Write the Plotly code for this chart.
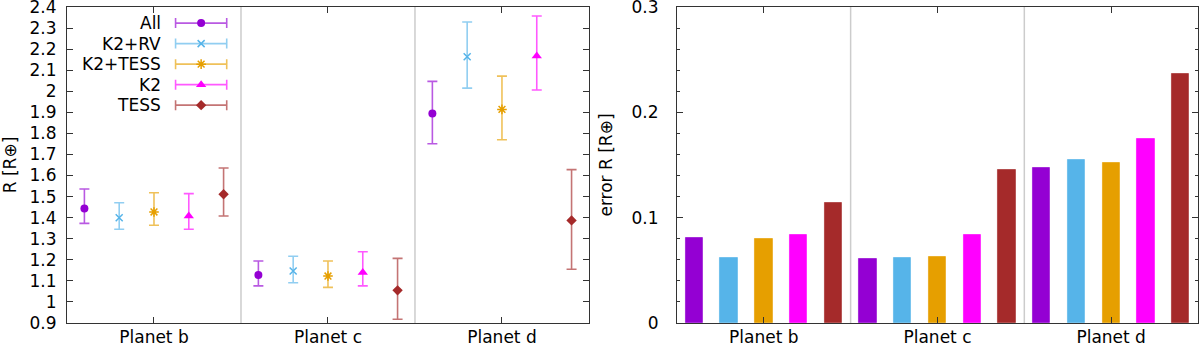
import plotly.graph_objects as go

# Data
planets = ["Planet b", "Planet c", "Planet d"]
series = ["All", "K2+RV", "K2+TESS", "K2", "TESS"]

r_all = [1.444, 1.128, 1.895]
r_all_hi = [0.092, 0.066, 0.152]
r_all_lo = [0.071, 0.052, 0.144]

r_k2rv = [1.400, 1.147, 2.164]
r_k2rv_hi = [0.071, 0.070, 0.165]
r_k2rv_lo = [0.055, 0.056, 0.149]

r_k2tess = [1.427, 1.123, 1.914]
r_k2tess_hi = [0.091, 0.071, 0.158]
r_k2tess_lo = [0.063, 0.054, 0.144]

r_k2 = [1.408, 1.140, 2.167]
r_k2_hi = [0.106, 0.098, 0.190]
r_k2_lo = [0.063, 0.064, 0.161]

r_tess = [1.511, 1.055, 1.387]
r_tess_hi = [0.125, 0.152, 0.241]
r_tess_lo = [0.103, 0.137, 0.232]

err_all = [0.081, 0.0605, 0.147]
err_k2rv = [0.0614, 0.0614, 0.155]
err_k2tess = [0.0795, 0.063, 0.1516]
err_k2 = [0.0839, 0.0839, 0.175]
err_tess = [0.1143, 0.1452, 0.2367]

r_ticks = [0.9, 1, 1.1, 1.2, 1.3, 1.4, 1.5, 1.6, 1.7, 1.8, 1.9, 2, 2.1, 2.2, 2.3, 2.4]
err_ticks = [0, 0.1, 0.2, 0.3]

# styles
colors = ["#9400D3", "#56B4E9", "#E69F00", "#FF00FF", "#A52A2A"]
err_colors = ["rgba(148,0,211,0.65)", "rgba(86,180,233,0.65)", "rgba(230,159,0,0.65)",
              "rgba(255,0,255,0.65)", "rgba(165,42,42,0.65)"]
symbols = ["circle", "x-thin-open", "asterisk-open", "triangle-up", "diamond"]
sizes = [8, 7, 8, 9, 8]

values = [r_all, r_k2rv, r_k2tess, r_k2, r_tess]
highs = [r_all_hi, r_k2rv_hi, r_k2tess_hi, r_k2_hi, r_tess_hi]
lows = [r_all_lo, r_k2rv_lo, r_k2tess_lo, r_k2_lo, r_tess_lo]
errs = [err_all, err_k2rv, err_k2tess, err_k2, err_tess]

FONT = "DejaVu Sans"
fig = go.Figure()

for j, name in enumerate(series):
    xs = [i + (j - 2) * 0.2 for i in range(len(planets))]
    open_sym = symbols[j].endswith("open")
    fig.add_trace(go.Scatter(
        x=xs, y=values[j], mode="markers", name=name, showlegend=False,
        marker=dict(symbol=symbols[j], size=sizes[j], color=colors[j],
                    line=dict(color=colors[j], width=1.5 if open_sym else 0)),
        error_y=dict(type="data", symmetric=False, array=highs[j], arrayminus=lows[j],
                     color=err_colors[j], thickness=1.6, width=5),
        xaxis="x", yaxis="y"))
    fig.add_trace(go.Bar(
        x=xs, y=errs[j], width=0.1, name=name, showlegend=False,
        marker=dict(color=colors[j], line=dict(color=err_colors[j], width=1)),
        xaxis="x2", yaxis="y2"))

# custom gnuplot-style key: text right-aligned, sample to the right
key_x, key_half, key_top, key_step = 0.257, 0.049, 0.949, 0.0649
for j, name in enumerate(series):
    ky = key_top - j * key_step
    open_sym = symbols[j].endswith("open")
    fig.add_trace(go.Scatter(
        x=[key_x], y=[ky], mode="markers", showlegend=False, hoverinfo="skip",
        marker=dict(symbol=symbols[j], size=sizes[j], color=colors[j],
                    line=dict(color=colors[j], width=1.5 if open_sym else 0)),
        error_x=dict(type="constant", value=key_half, color=err_colors[j],
                     thickness=1.6, width=5),
        xaxis="x3", yaxis="y3"))
    fig.add_annotation(x=0.184, y=ky, xref="x3", yref="y3", text=name,
                       showarrow=False, xanchor="right", yanchor="middle",
                       font=dict(family=FONT, size=17, color="black"))

# separators between planets
for ax, yd in (("x", "y domain"), ("x2", "y2 domain")):
    for s in (0.5, 1.5):
        fig.add_shape(type="line", x0=s, x1=s, y0=0, y1=1, xref=ax, yref=yd,
                      line=dict(color="#cccccc", width=1.5), layer="below")

d1 = [0, 0.4615]
d2 = [0.5393, 1]
axis_common = dict(showline=True, linecolor="#333333", linewidth=1, mirror="ticks",
                   ticks="inside", tickcolor="#333333", ticklen=6, showgrid=False,
                   zeroline=False, automargin=False, ticklabeloverflow="allow",
                   tickfont=dict(family=FONT, size=17, color="black"))

fig.update_layout(
    width=1200, height=345,
    margin=dict(l=67, r=2, t=7, b=22),
    paper_bgcolor="white", plot_bgcolor="white",
    font=dict(family=FONT, size=17, color="black"),
    xaxis=dict(domain=d1, range=[-0.5, 2.5], tickvals=[0, 1, 2], ticktext=planets,
               ticklabelstandoff=-1, **axis_common),
    yaxis=dict(range=[0.9, 2.4], tickvals=r_ticks, ticktext=[f"{v:g}" for v in r_ticks],
               ticklabelstandoff=6,
               title=dict(text="R [R⊕]", font=dict(family=FONT, size=17), standoff=16),
               **axis_common),
    xaxis2=dict(domain=d2, range=[-0.5, 2.5], tickvals=[0, 1, 2], ticktext=planets,
                anchor="y2", ticklabelstandoff=-1, **axis_common),
    yaxis2=dict(range=[0, 0.3], tickvals=err_ticks, ticktext=[f"{v:g}" for v in err_ticks],
                anchor="x2", ticklabelstandoff=14,
                minor=dict(ticks="inside", dtick=0.02, ticklen=3, tickcolor="#333333"),
                title=dict(text="error R [R⊕]", font=dict(family=FONT, size=17), standoff=14),
                **axis_common),
    xaxis3=dict(domain=d1, range=[0, 1], visible=False, anchor="y3", overlaying="x"),
    yaxis3=dict(domain=[0, 1], range=[0, 1], visible=False, anchor="x3", overlaying="y"),
    bargap=0,
)

# drop the default 8px page margin so the figure fills the window
fig.write_html("out.html", config={"displayModeBar": False},
               post_script="document.body.style.margin = '0';")
